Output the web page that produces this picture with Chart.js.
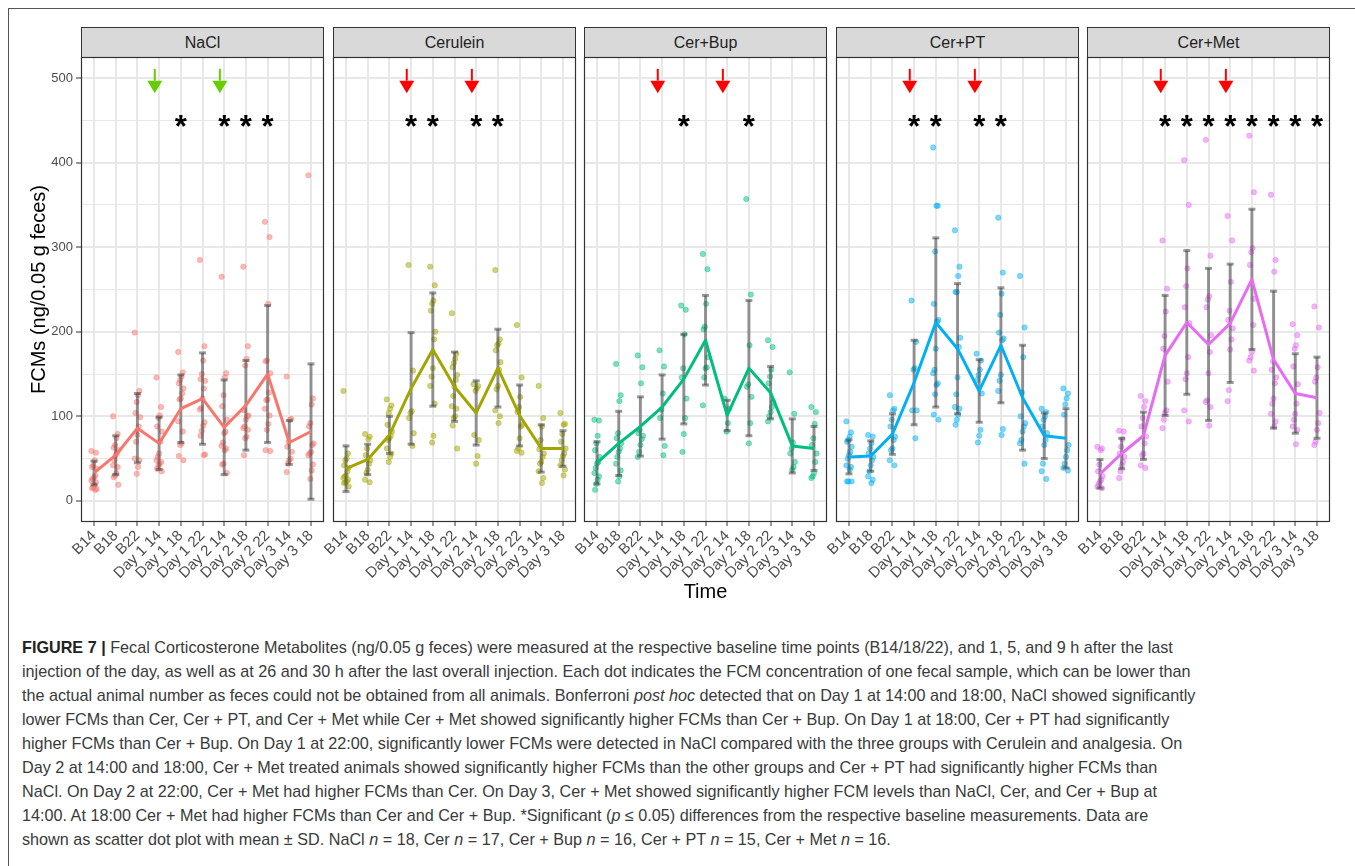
<!DOCTYPE html>
<html>
<head>
<meta charset="utf-8">
<script src="https://cdn.jsdelivr.net/npm/chart.js@4.4.0/dist/chart.umd.min.js"></script>
<style>
body { margin: 0; background: #fff; width: 1355px; height: 866px; position: relative; overflow: hidden; font-family: "Liberation Sans", Arial, sans-serif; }
.frame { position: absolute; left: 8px; top: 8px; width: 1400px; height: 900px; border-left: 1px solid #555; border-top: 1px solid #555; }
.strip { position: absolute; top: 27px; height: 31px; box-sizing: border-box; border: 1px solid #333; background: #d9d9d9; color: #222; font-size: 16px; text-align: center; line-height: 29px; }
canvas { position: absolute; top: 0; }
.caption { position: absolute; left: 22px; top: 635px; font-size: 16.2px; line-height: 24px; color: #3a3a3a; }
.caption div { white-space: nowrap; height: 24px; }
.caption b { color: #222; }
</style>
</head>
<body>
<div class="frame"></div>
<div id="figure"></div>
<div class="caption">
<div><b>FIGURE 7 |</b> Fecal Corticosterone Metabolites (ng/0.05 g feces) were measured at the respective baseline time points (B14/18/22), and 1, 5, and 9 h after the last</div>
<div>injection of the day, as well as at 26 and 30 h after the last overall injection. Each dot indicates the FCM concentration of one fecal sample, which can be lower than</div>
<div>the actual animal number as feces could not be obtained from all animals. Bonferroni <i>post hoc</i> detected that on Day 1 at 14:00 and 18:00, NaCl showed significantly</div>
<div>lower FCMs than Cer, Cer + PT, and Cer + Met while Cer + Met showed significantly higher FCMs than Cer + Bup. On Day 1 at 18:00, Cer + PT had significantly</div>
<div>higher FCMs than Cer + Bup. On Day 1 at 22:00, significantly lower FCMs were detected in NaCl compared with the three groups with Cerulein and analgesia. On</div>
<div>Day 2 at 14:00 and 18:00, Cer + Met treated animals showed significantly higher FCMs than the other groups and Cer + PT had significantly higher FCMs than</div>
<div>NaCl. On Day 2 at 22:00, Cer + Met had higher FCMs than Cer. On Day 3, Cer + Met showed significantly higher FCM levels than NaCl, Cer, and Cer + Bup at</div>
<div>14:00. At 18:00 Cer + Met had higher FCMs than Cer and Cer + Bup. *Significant (<i>p</i> ≤ 0.05) differences from the respective baseline measurements. Data are</div>
<div>shown as scatter dot plot with mean ± SD. NaCl <i>n</i> = 18, Cer <i>n</i> = 17, Cer + Bup <i>n</i> = 16, Cer + PT <i>n</i> = 15, Cer + Met <i>n</i> = 16.</div>
</div>
<script>
// time points and groups
const times = ['B14', 'B18', 'B22', 'Day 1 14', 'Day 1 18', 'Day 1 22', 'Day 2 14', 'Day 2 18', 'Day 2 22', 'Day 3 14', 'Day 3 18'];
const groups = ['NaCl', 'Cerulein', 'Cer+Bup', 'Cer+PT', 'Cer+Met'];
const groupColors = ['#F8766D', '#A3A500', '#00BF7D', '#00B0F6', '#E76BF3'];

const yTickValues = [0, 100, 200, 300, 400, 500];
const yTickLabels = ['0', '100', '200', '300', '400', '500'];
const yMinorValues = [50, 150, 250, 350, 450];

// mean and SD per time point
const naclMean = [33, 54, 86, 68, 109, 121, 87, 113, 150, 69, 82];
const naclSd = [14, 23, 41, 31, 40, 54, 56, 53, 81, 26, 80];
const cerMean = [38, 49, 78, 133, 179, 135, 104, 157, 101, 62, 62];
const cerSd = [27, 18, 22, 66, 67, 41, 38, 46, 36, 28, 21];
const bupMean = [45, 68, 88, 111, 144, 190, 101, 157, 128, 65, 62];
const bupSd = [25, 38, 35, 38, 53, 53, 18, 80, 31, 32, 26];
const ptMean = [52, 53, 79, 140, 211, 180, 130, 184, 122, 77, 74];
const ptSd = [20, 18, 24, 50, 100, 77, 37, 68, 62, 27, 35];
const metMean = [32, 56, 77, 172, 211, 185, 210, 262, 167, 127, 122];
const metSd = [17, 18, 28, 71, 85, 90, 70, 83, 81, 47, 48];

// single fecal samples
const naclDots = [
  [59, 57, 48, 42, 40, 38, 30, 28, 26, 24, 22, 19, 16, 15, 14, 13],
  [100, 79, 74, 66, 63, 60, 57, 54, 48, 42, 40, 33, 30, 28, 19],
  [199, 130, 125, 117, 104, 99, 88, 78, 70, 50, 48, 40, 32],
  [146, 111, 101, 98, 88, 82, 70, 56, 52, 48, 46, 44, 42, 38, 35],
  [176, 152, 147, 143, 139, 133, 127, 121, 120, 94, 82, 68, 66, 53, 48],
  [285, 183, 166, 150, 144, 142, 133, 121, 110, 108, 93, 89, 83, 77, 55, 54],
  [265, 151, 146, 125, 112, 96, 82, 80, 69, 65, 62, 60, 44, 43, 33],
  [277, 183, 168, 160, 107, 101, 100, 96, 88, 86, 84, 76, 74, 54],
  [330, 312, 233, 166, 165, 151, 128, 120, 119, 109, 101, 91, 84, 60, 59],
  [147, 97, 96, 70, 64, 58, 50, 48, 44, 34],
  [385, 121, 114, 92, 88, 68, 66, 58, 56, 54, 43, 36, 26]
];
const cerDots = [
  [130, 56, 50, 48, 42, 39, 35, 30, 29, 27, 25, 23, 22, 21, 17],
  [79, 76, 73, 62, 54, 48, 44, 37, 33, 25, 22],
  [120, 113, 109, 104, 90, 82, 77, 74, 72, 62, 56, 52, 46],
  [279, 154, 106, 104, 98, 80, 65],
  [277, 255, 237, 233, 225, 200, 191, 157, 147, 136, 115, 77, 69],
  [222, 174, 168, 163, 158, 149, 143, 135, 124, 112, 109, 100, 98, 89, 62],
  [138, 136, 133, 130, 78, 72, 53, 44],
  [273, 191, 186, 184, 178, 164, 155, 136, 132, 107, 100, 92],
  [208, 146, 123, 111, 105, 90, 88, 74, 62, 59, 57],
  [136, 98, 88, 72, 61, 56, 52, 46, 44, 35, 27, 21],
  [104, 91, 90, 79, 70, 62, 56, 53, 48, 42, 37, 30]
];
const bupDots = [
  [96, 95, 77, 68, 60, 52, 46, 44, 39, 33, 29, 25, 20, 13],
  [162, 125, 118, 80, 74, 68, 62, 58, 52, 44, 36, 29, 23],
  [172, 158, 139, 84, 80, 77, 73, 66, 58, 52],
  [178, 159, 127, 108, 98, 65, 54],
  [231, 226, 197, 157, 146, 121, 98, 79, 58],
  [292, 274, 233, 206, 203, 170, 158, 157, 146, 113],
  [121, 109, 92, 82],
  [357, 244, 184, 138, 135, 123, 92, 68],
  [190, 182, 155, 147, 139, 117, 111, 105, 100, 94],
  [152, 103, 69, 62, 56, 46, 40, 37],
  [111, 105, 91, 74, 66, 56, 46, 33, 29, 27]
];
const ptDots = [
  [94, 81, 76, 72, 70, 64, 58, 54, 50, 42, 40, 37, 23, 23, 23],
  [78, 76, 68, 62, 56, 52, 48, 42, 35, 29, 25, 21],
  [125, 109, 107, 96, 88, 76, 72, 62, 60, 48, 42],
  [237, 188, 157, 155, 107, 107, 74],
  [418, 349, 349, 295, 233, 214, 212, 180, 155, 151, 139, 137, 126, 102, 96],
  [320, 277, 266, 247, 247, 193, 182, 146, 126, 111, 109, 102, 96, 90],
  [174, 166, 155, 149, 143, 127, 84, 77, 69],
  [335, 270, 245, 220, 199, 192, 190, 149, 142, 130, 85, 78],
  [266, 205, 170, 128, 100, 92, 88, 82, 72, 68, 44],
  [109, 105, 100, 96, 88, 80, 72, 66, 44, 35, 26],
  [133, 127, 121, 114, 102, 66, 60, 52, 44, 39, 36]
];
const metDots = [
  [64, 62, 60, 43, 35, 29, 25, 23, 20, 17, 15],
  [83, 82, 73, 64, 56, 52, 46, 42, 35, 27],
  [124, 118, 111, 98, 88, 76, 68, 56, 54, 42, 39],
  [308, 251, 224, 195, 180, 141, 107, 104, 96, 86],
  [403, 350, 275, 254, 229, 210, 170, 151, 144, 107, 94],
  [427, 290, 242, 238, 229, 196, 176, 151, 119, 117, 111, 89],
  [337, 308, 259, 225, 214, 204, 191, 179, 131, 118],
  [432, 365, 299, 294, 279, 239, 208, 176, 170, 166, 154],
  [362, 285, 271, 165, 155, 146, 139, 121, 115, 103, 94, 88],
  [209, 196, 184, 180, 159, 138, 115, 103, 96, 88, 84, 67],
  [230, 205, 158, 146, 141, 104, 92, 84, 70, 66]
];

// significance stars (time index) and injection arrows
const naclStars = [4, 6, 7, 8];
const cerStars = [3, 4, 6, 7];
const bupStars = [4, 7];
const ptStars = [3, 4, 6, 7];
const metStars = [3, 4, 5, 6, 7, 8, 9, 10];
const arrowTimes = [2.8, 5.8];
const arrowColors = ['#66CD00', '#FF0000', '#FF0000', '#FF0000', '#FF0000'];
const starLevel = 450;
const arrowTop = 511, arrowBase = 497, arrowTip = 482;

const means = [naclMean, cerMean, bupMean, ptMean, metMean];
const sds = [naclSd, cerSd, bupSd, ptSd, metSd];
const dots = [naclDots, cerDots, bupDots, ptDots, metDots];
const stars = [naclStars, cerStars, bupStars, ptStars, metStars];

const panelLeft = [81, 333, 584, 836, 1087];
const panelWidth = 243;

Chart.defaults.font.family = '"Liberation Sans", Arial, sans-serif';

function rgba(hex, a) {
  const n = parseInt(hex.slice(1), 16);
  return `rgba(${n >> 16},${(n >> 8) & 255},${n & 255},${a})`;
}
const jit = j => (((j * 7) % 9) - 4) * 0.03;

const facetExtras = {
  id: 'facetExtras',
  afterDatasetDraw(chart, args, opts) {
    if (args.index !== 1) return;
    const { ctx, scales: { x, y } } = chart;
    ctx.save();
    ctx.strokeStyle = 'rgba(70,70,70,0.55)';
    ctx.lineWidth = 3;
    opts.mean.forEach((m, i) => {
      const px = x.getPixelForValue(i);
      const top = y.getPixelForValue(m + opts.sd[i]);
      const bot = y.getPixelForValue(m - opts.sd[i]);
      ctx.beginPath(); ctx.moveTo(px, top); ctx.lineTo(px, bot); ctx.stroke();
      ctx.beginPath(); ctx.moveTo(px - 3.5, top); ctx.lineTo(px + 3.5, top); ctx.stroke();
      ctx.beginPath(); ctx.moveTo(px - 3.5, bot); ctx.lineTo(px + 3.5, bot); ctx.stroke();
    });
    ctx.restore();
  },
  afterDraw(chart, args, opts) {
    const { ctx, chartArea: a, scales: { x, y } } = chart;
    ctx.save();
    // stars
    ctx.fillStyle = '#000';
    ctx.font = 'bold 31px "Liberation Sans", Arial, sans-serif';
    ctx.textAlign = 'center';
    ctx.textBaseline = 'alphabetic';
    opts.stars.forEach(i => {
      ctx.fillText('*', x.getPixelForValue(i), y.getPixelForValue(starLevel) + 17);
    });
    // arrows
    ctx.strokeStyle = opts.arrowColor;
    ctx.fillStyle = opts.arrowColor;
    ctx.lineWidth = 2;
    arrowTimes.forEach(t => {
      const px = x.getPixelForValue(t);
      ctx.beginPath();
      ctx.moveTo(px, y.getPixelForValue(arrowTop));
      ctx.lineTo(px, y.getPixelForValue(arrowBase));
      ctx.stroke();
      ctx.beginPath();
      ctx.moveTo(px - 7.5, y.getPixelForValue(arrowBase));
      ctx.lineTo(px + 7.5, y.getPixelForValue(arrowBase));
      ctx.lineTo(px, y.getPixelForValue(arrowTip));
      ctx.closePath();
      ctx.fill();
    });
    // panel border
    ctx.strokeStyle = '#333';
    ctx.lineWidth = 1.2;
    ctx.strokeRect(a.left + 0.5, a.top + 0.5, a.right - a.left - 1, a.bottom - a.top - 1);
    ctx.restore();
  }
};

const figure = document.getElementById('figure');

groups.forEach((g, k) => {
  const first = k === 0;
  const padL = first ? 0 : 12;
  const yw = first ? 71 : 0;
  const left = panelLeft[k] - yw - padL;
  const w = yw + padL + panelWidth + 6;

  const strip = document.createElement('div');
  strip.className = 'strip';
  strip.style.left = panelLeft[k] + 'px';
  strip.style.width = panelWidth + 'px';
  strip.textContent = g;
  figure.appendChild(strip);

  const canvas = document.createElement('canvas');
  canvas.width = w;
  canvas.height = 607;
  canvas.style.left = left + 'px';
  figure.appendChild(canvas);

  const col = groupColors[k];
  const points = [];
  dots[k].forEach((arr, i) => arr.forEach((v, j) => points.push({ x: i + jit(j), y: v })));

  new Chart(canvas, {
    type: 'scatter',
    data: {
      datasets: [{
        data: means[k].map((m, i) => ({ x: i, y: m })),
        showLine: true,
        borderColor: col,
        borderWidth: 3,
        borderJoinStyle: 'round',
        pointRadius: 0,
        order: 1
      }, {
        data: points,
        pointRadius: 2.7,
        backgroundColor: rgba(col, 0.5),
        borderColor: rgba(col, 0.6),
        borderWidth: 0.6,
        order: 2
      }]
    },
    options: {
      responsive: false,
      animation: false,
      events: [],
      layout: { padding: { left: padL, right: 6, top: 57, bottom: 0 } },
      plugins: {
        legend: { display: false },
        tooltip: { enabled: false },
        facetExtras: { mean: means[k], sd: sds[k], stars: stars[k], arrowColor: arrowColors[k] }
      },
      scales: {
        x: {
          type: 'linear',
          min: -0.6,
          max: 10.6,
          afterBuildTicks: s => { s.ticks = times.map((t, i) => ({ value: i })); },
          afterFit: s => { s.height = 85; },
          ticks: {
            callback: v => times[v],
            minRotation: 45,
            maxRotation: 45,
            autoSkip: false,
            color: '#4d4d4d',
            font: { size: 15 },
            padding: 1
          },
          grid: { color: '#e8e8e8', lineWidth: 2, tickColor: '#333', tickLength: 4, tickWidth: 1 },
          border: { display: false },
          title: { display: k === 2, text: 'Time', color: '#000', font: { size: 20 }, padding: { top: 0, bottom: 3 } }
        },
        y: {
          min: -25,
          max: 525,
          afterBuildTicks: s => { s.ticks = [...yTickValues, ...yMinorValues].sort((a, b) => a - b).map(v => ({ value: v })); },
          afterFit: s => { s.width = yw; },
          ticks: {
            display: first,
            callback: v => { const i = yTickValues.indexOf(v); return i >= 0 ? yTickLabels[i] : ''; },
            color: '#4d4d4d',
            font: { size: 13 },
            padding: 3
          },
          grid: {
            color: '#e8e8e8',
            lineWidth: c => yTickValues.includes(c.tick.value) ? 2 : 1,
            drawTicks: first,
            tickLength: 5,
            tickWidth: 1,
            tickColor: c => yTickValues.includes(c.tick.value) ? '#333' : 'rgba(0,0,0,0)'
          },
          border: { display: false },
          title: { display: first, text: 'FCMs (ng/0.05 g feces)', color: '#000', font: { size: 20 }, padding: { top: 17, bottom: 0 } }
        }
      }
    },
    plugins: [facetExtras]
  });
});
</script>
</body>
</html>
